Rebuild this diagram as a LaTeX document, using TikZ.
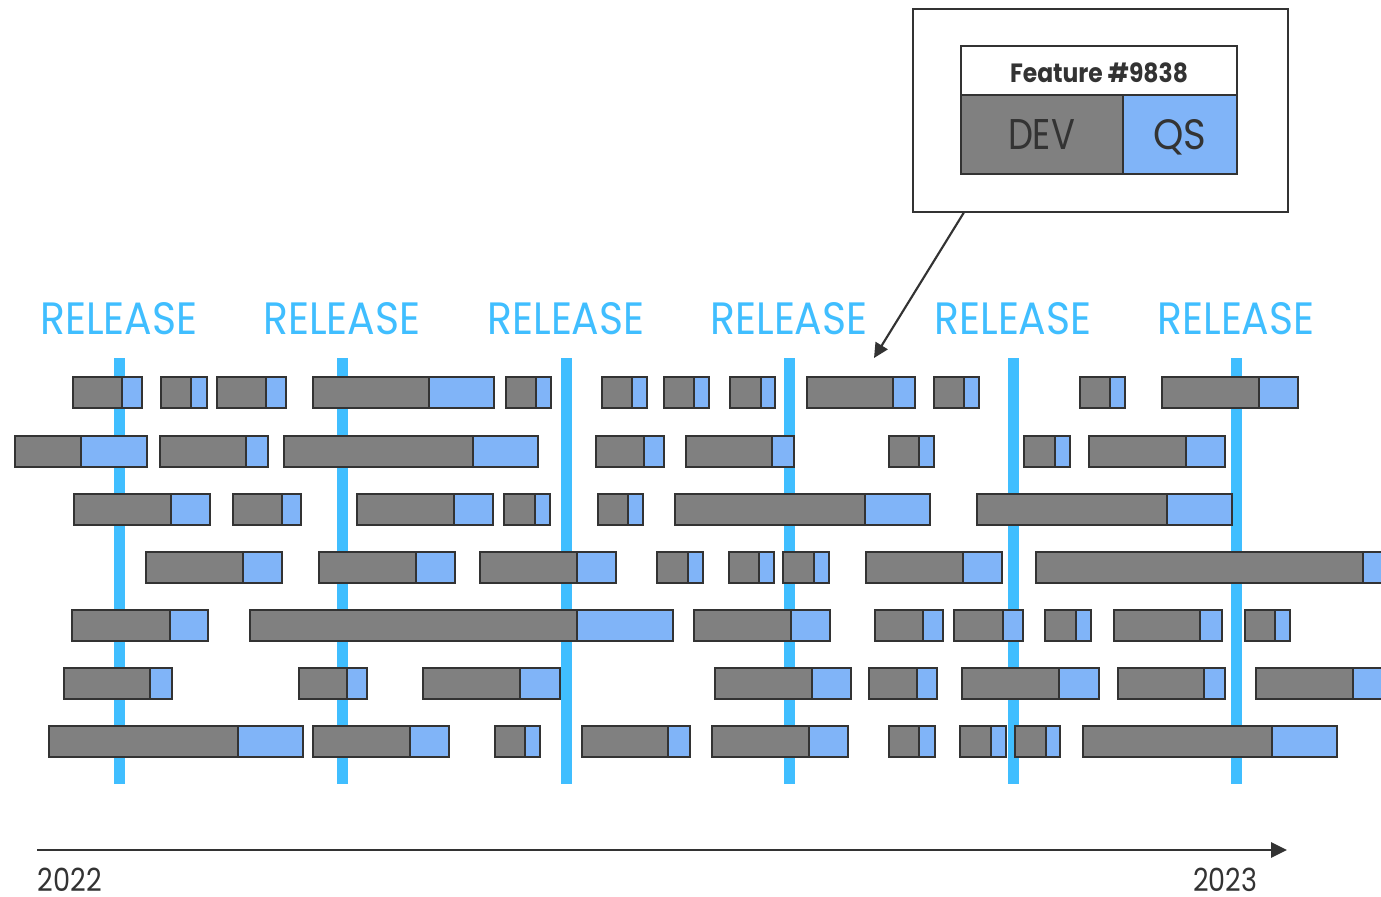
\documentclass[tikz,border=0pt]{standalone}
\usepackage{fontspec}
\setmainfont{Poppins}
\usetikzlibrary{arrows.meta,calc}
\definecolor{devgray}{HTML}{808080}
\definecolor{qsblue}{HTML}{80B4F8}
\definecolor{relblue}{HTML}{40BEFF}
\definecolor{edge}{HTML}{333333}
\definecolor{txt}{HTML}{333333}
\tikzset{
  devpart/.style={fill=devgray,draw=edge,line width=1.4pt},
  qspart/.style={fill=qsblue,draw=edge,line width=1.4pt},
  relline/.style={fill=relblue},
  rellabel/.style={anchor=base,inner sep=0pt,text=relblue},
  frame/.style={draw=edge,line width=1.1pt},
}
\begin{document}
\begin{tikzpicture}[x=0.75pt,y=-0.75pt]
\useasboundingbox (0,0) rectangle (1381,896);
% release lines
\foreach \rx [count=\i] in {119,342,566,789,1013,1236}{
  \fill[relline] (\rx-5.5,358) rectangle (\rx+5.5,784);
  \node[rellabel] (rel\i) at (\rx,334) {\resizebox{117.75pt}{24pt}{RELEASE}};
}
% feature bars
\foreach \t/\bars in {
 377/{73/122/142,161/191/207,217/266/286,313/429/494,506/536/551,602/632/647,664/694/709,730/761/775,807/893/915,934/964/979,1080/1110/1125,1162/1259/1298},
 436/{15/81/147,160/246/268,284/473/538,596/644/664,686/772/794,889/919/934,1024/1055/1070,1089/1186/1225},
 494/{74/171/210,233/282/301,357/454/493,504/535/550,598/628/643,675/865/930,977/1167/1232},
 552/{146/243/282,319/416/455,480/577/616,657/688/703,729/759/774,783/814/829,866/963/1002,1036/1363/1392},
 610/{72/170/208,250/577/673,694/791/830,875/923/943,954/1003/1023,1045/1076/1091,1114/1200/1222,1245/1275/1290},
 668/{64/150/172,299/347/367,423/520/560,715/812/851,869/917/937,962/1059/1099,1118/1204/1225,1256/1353/1392},
 726/{49/238/303,313/410/449,495/525/540,582/668/690,712/809/848,889/919/935,960/991/1006,1015/1046/1060,1083/1272/1337}}{
  \foreach \a/\b/\c in \bars {
    \draw[devpart] (\a,\t) rectangle (\b,\t+31);
    \draw[qspart] (\b,\t) rectangle (\c,\t+31);
  }
}
% legend
\node[frame,minimum width=281.25pt,minimum height=152.25pt,inner sep=0pt] (legend) at (1100.5,110.5) {};
\draw[frame,fill=white] (961,46) rectangle (1237,95);
\draw[devpart,line width=1.1pt] (961,95) rectangle (1123,174);
\draw[qspart,line width=1.1pt] (1123,95) rectangle (1237,174);
\node[anchor=base,inner sep=0pt,text=txt] (feat) at (1099,82.7) {\resizebox{133.5pt}{14.8pt}{\bfseries Feature \#9838}};
\node[anchor=base,inner sep=0pt,text=txt] (dev) at (1041.5,149) {\resizebox{50.25pt}{22.5pt}{DEV}};
\node[anchor=base,inner sep=0pt,text=txt] (qs) at (1179.5,149) {\resizebox{39.75pt}{22.5pt}{QS}};
\coordinate (ctip) at (874,358);
\draw[edge,line width=1.6pt,-{Triangle[length=11pt,width=10.5pt]}] ($(legend.south west)+(51.5,0)$) -- (ctip);
% time axis
\coordinate (axstart) at (37,850);
\coordinate (axend) at (1287,850);
\draw[edge,line width=2pt,-{Triangle[length=12pt,width=11.3pt]}] (axstart) -- (axend);
\node[anchor=base,inner sep=0pt,text=txt] (y22) at (70,891) {\resizebox{48pt}{17.6pt}{2022}};
\node[anchor=base,inner sep=0pt,text=txt] (y23) at (1225,891) {\resizebox{48pt}{17.6pt}{2023}};
\end{tikzpicture}
\end{document}
